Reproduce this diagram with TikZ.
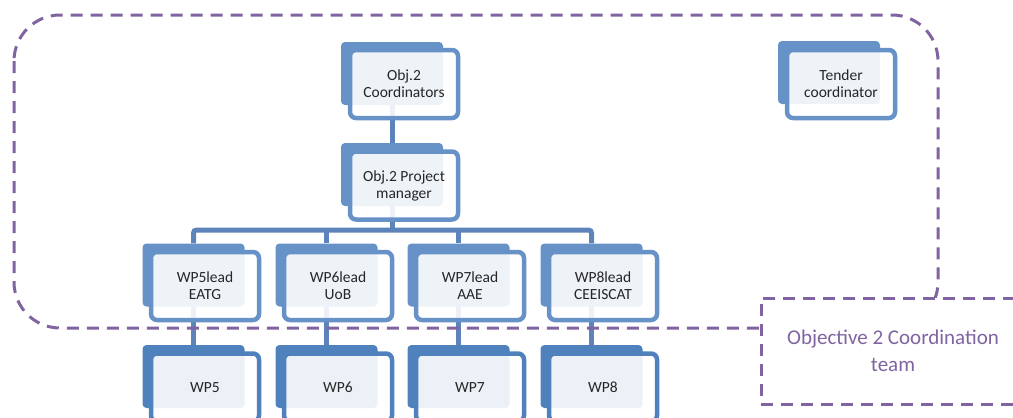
\documentclass[tikz,border=0pt]{standalone}
\usepackage{fontspec}
\setmainfont{Carlito}
\usepackage{tikz}
\usetikzlibrary{positioning}
\pgfdeclarelayer{background}
\pgfsetlayers{background,main}

\definecolor{unitblue}{RGB}{103,146,199}
\definecolor{wpblue}{RGB}{79,129,189}
\definecolor{linkblue}{RGB}{92,132,186}
\definecolor{teampurple}{RGB}{128,100,162}

\tikzset{
  plate/.style={rectangle, rounded corners=4, fill=#1, draw=none, inner sep=0,
    minimum width=102, minimum height=63},
  card/.style={rectangle, rounded corners=6, draw=#1, line width=4.5, fill=white,
    fill opacity=0.89, text opacity=1, inner sep=0, minimum width=108, minimum height=68,
    align=center, text=black!85, font=\fontsize{15.5}{17}\selectfont},
  link/.style={linkblue, line width=5, rounded corners=3},
  team/.style={teampurple, line width=3, dash pattern=on 12 off 8}
}

\begin{document}
\begin{tikzpicture}[x=1pt,y=-1pt]
\useasboundingbox (0,0) rectangle (1013,418);
\clip (0,0) rectangle (1013,418);

%%Plates
\node[plate=unitblue] (CoordP) at (392,73.5) {};
\node[plate=unitblue] (ManagerP) at (392,174.5) {};
\node[plate=unitblue] (TenderP) at (829,72.5) {};
\node[plate=unitblue] (LeadFiveP) at (193.5,275) {};
\node[plate=unitblue] (LeadSixP) at (326.5,275) {};
\node[plate=unitblue] (LeadSevenP) at (458.5,275) {};
\node[plate=unitblue] (LeadEightP) at (591.5,275) {};
\node[plate=wpblue] (WPFiveP) at (193.5,376.5) {};
\node[plate=wpblue] (WPSixP) at (326.5,376.5) {};
\node[plate=wpblue] (WPSevenP) at (458.5,376.5) {};
\node[plate=wpblue] (WPEightP) at (591.5,376.5) {};

%%Cards
\node[card=unitblue] (Coord) at ([shift={(12,10.5)}]CoordP.center) {Obj.2\\Coordinators};
\node[card=unitblue] (Manager) at ([shift={(12,11)}]ManagerP.center) {Obj.2 Project\\manager};
\node[card=unitblue] (Tender) at ([shift={(12,11.5)}]TenderP.center) {Tender\\coordinator};
\node[card=unitblue] (LeadFive) at ([shift={(11.5,11)}]LeadFiveP.center) {WP5lead\\EATG};
\node[card=unitblue] (LeadSix) at ([shift={(11.5,11)}]LeadSixP.center) {WP6lead\\UoB};
\node[card=unitblue] (LeadSeven) at ([shift={(11.5,11)}]LeadSevenP.center) {WP7lead\\AAE};
\node[card=unitblue] (LeadEight) at ([shift={(11.5,11)}]LeadEightP.center) {WP8lead\\CEEISCAT};
\node[card=wpblue] (WPFive) at ([shift={(11.5,11)}]WPFiveP.center) {WP5};
\node[card=wpblue] (WPSix) at ([shift={(11.5,11)}]WPSixP.center) {WP6};
\node[card=wpblue] (WPSeven) at ([shift={(11.5,11)}]WPSevenP.center) {WP7};
\node[card=wpblue] (WPEight) at ([shift={(11.5,11)}]WPEightP.center) {WP8};

%%Links (behind everything)
\begin{pgfonlayer}{background}
\coordinate (Bar) at (0,230);
\draw[link] (CoordP.center) -- (ManagerP.north);
\draw[link] (ManagerP.center) -- (ManagerP.center |- Bar);
\draw[link] (LeadFiveP.north) -- (LeadFiveP.north |- Bar) -- (LeadEightP.north |- Bar) -- (LeadEightP.north);
\draw[link] (LeadSixP.north |- Bar) -- (LeadSixP.north);
\draw[link] (LeadSevenP.north |- Bar) -- (LeadSevenP.north);
\draw[link] (LeadFiveP.center) -- (WPFiveP.north);
\draw[link] (LeadSixP.center) -- (WPSixP.north);
\draw[link] (LeadSevenP.center) -- (WPSevenP.north);
\draw[link] (LeadEightP.center) -- (WPEightP.north);
\end{pgfonlayer}

%%Coordination team
\draw[team, rounded corners=46] (14,15) rectangle (938,328);
\node[team, draw, fill=white, minimum width=264, minimum height=106, inner sep=0,
  align=center, text=teampurple, font=\fontsize{21}{27}\selectfont] (Team) at (893,351)
  {Objective 2 Coordination\\team};

\end{tikzpicture}
\end{document}
